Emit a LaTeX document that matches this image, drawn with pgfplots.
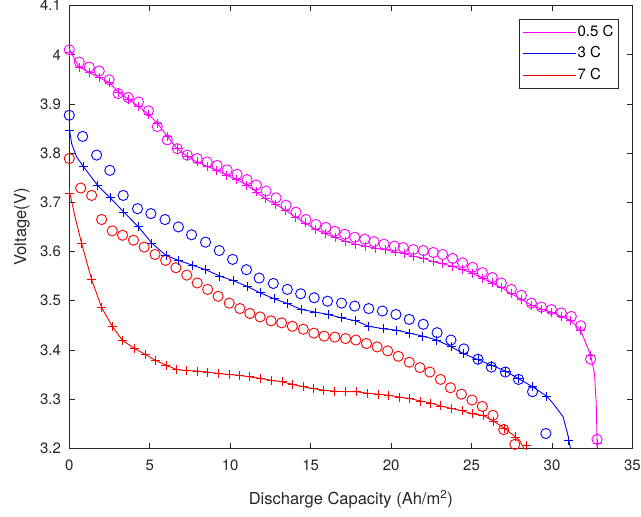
\documentclass[border=0pt]{standalone}
\usepackage{fontspec}
\setmainfont{TeX Gyre Heros}
\usepackage{pgfplots}
\pgfplotsset{compat=1.18}
\definecolor{mag}{rgb}{1,0,1}
\definecolor{blu}{rgb}{0,0,1}
\definecolor{rd}{rgb}{1,0,0}
\definecolor{axgray}{rgb}{0.15,0.15,0.15}
\begin{document}
\begin{tikzpicture}
\begin{axis}[
  scale only axis,
  width=375.5pt, height=295.2pt,
  xmin=0, xmax=35, ymin=3.2, ymax=4.1,
  xtick={0,5,10,15,20,25,30,35},
  ytick={3.2,3.3,3.4,3.5,3.6,3.7,3.8,3.9,4,4.1},
  tick align=inside,
  major tick length=3.5pt,
  axis line style={draw=axgray, line width=0.5pt},
  major tick style={draw=axgray, line width=0.5pt},
  tick label style={font=\fontsize{10}{12}\selectfont, text=axgray},
  yticklabel style={xshift=-2pt},
  xticklabel style={yshift=-4.5pt},
  /pgf/number format/assume math mode=true,
  xlabel={Discharge Capacity (Ah/m\textsuperscript{2})},
  ylabel={Voltage(V)},
  label style={font=\fontsize{11}{13}\selectfont, text=axgray},
  xlabel style={at={(axis description cs:0.5,0)}, anchor=base, yshift=-37.3pt},
  legend style={at={(0.9748,0.9688)}, anchor=north east, draw=axgray, line width=0.5pt,
    fill=white, font=\fontsize{10}{12}\selectfont, cells={anchor=west},
    inner xsep=2pt, inner ysep=2.5pt, row sep=3pt,
    nodes={inner sep=1pt, text height=7.5pt, text depth=2pt}},
  legend image code/.code={\draw[#1, line width=0.6pt] (0pt,0pt) -- (35pt,0pt);},
]
% model lines
\addplot[color=mag, draw=mag, line width=0.6pt, no marks] coordinates {
(0,4.012) (0.36,3.989) (0.62,3.975) (1.24,3.964) (1.86,3.953) (2.48,3.944) (3.04,3.924) (3.66,3.910) (4.30,3.895) (4.92,3.879) (5.47,3.861) (6.09,3.834) (6.71,3.809) (7.33,3.793) (7.95,3.782) (8.57,3.773) (9.17,3.765) (9.79,3.755) (10.41,3.746) (11.03,3.735) (11.62,3.721) (12.19,3.707) (12.81,3.696) (13.43,3.684) (14.05,3.670) (14.67,3.658) (15.29,3.645) (15.91,3.636) (16.52,3.628) (17.14,3.621) (17.76,3.615) (18.38,3.611) (19.00,3.607) (19.62,3.604) (20.26,3.599) (20.82,3.596) (21.40,3.590) (22.02,3.586) (22.64,3.579) (23.22,3.575) (23.82,3.570) (24.44,3.563) (25.06,3.556) (25.67,3.545) (26.29,3.536) (26.85,3.527) (27.47,3.514) (28.10,3.503) (28.72,3.491) (29.34,3.483) (29.96,3.477) (30.58,3.468) (31.16,3.460) (31.78,3.440) (32.40,3.389) (32.64,3.352) (32.75,3.290) (32.81,3.200)
};
\addlegendentry{0.5 C}
\addplot[color=blu, draw=blu, line width=0.6pt, no marks] coordinates {
(0,3.850) (0.15,3.819) (0.46,3.792) (0.87,3.773) (1.77,3.734) (2.55,3.709) (3.39,3.680) (4.30,3.650) (5.13,3.617) (6.01,3.592) (6.78,3.582) (7.67,3.572) (8.47,3.563) (9.36,3.550) (10.18,3.541) (11.05,3.529) (11.86,3.516) (12.73,3.504) (13.57,3.494) (14.44,3.482) (15.27,3.477) (16.09,3.472) (16.92,3.465) (17.81,3.459) (18.61,3.448) (19.50,3.443) (20.35,3.440) (21.17,3.434) (21.96,3.428) (22.84,3.420) (23.75,3.406) (24.52,3.392) (25.40,3.380) (26.23,3.369) (27.10,3.357) (27.90,3.342) (28.79,3.325) (29.66,3.306) (30.07,3.291) (30.69,3.264) (31.00,3.225) (31.14,3.200)
};
\addlegendentry{3 C}
\addplot[color=rd, draw=rd, line width=0.6pt, no marks] coordinates {
(0,3.724) (0.36,3.670) (0.77,3.616) (1.39,3.543) (2.01,3.486) (2.67,3.448) (3.29,3.420) (4.03,3.403) (4.71,3.391) (5.33,3.379) (6.01,3.369) (6.68,3.360) (7.30,3.358) (7.95,3.357) (8.60,3.355) (9.25,3.352) (9.94,3.350) (10.60,3.348) (11.22,3.345) (11.90,3.342) (12.58,3.338) (13.24,3.335) (13.88,3.330) (14.54,3.325) (15.20,3.321) (15.82,3.318) (16.50,3.316) (17.19,3.315) (17.85,3.315) (18.51,3.312) (19.19,3.310) (19.81,3.308) (20.51,3.304) (21.17,3.301) (21.83,3.296) (22.45,3.292) (23.07,3.286) (23.75,3.281) (24.41,3.276) (25.06,3.270) (25.71,3.267) (26.38,3.255) (27.06,3.240) (27.74,3.223) (27.99,3.216) (28.25,3.200)
};
\addlegendentry{7 C}
% circles
\addplot[color=mag, draw=mag, only marks, mark=o, mark size=3.4pt, line width=0.6pt, mark options={draw=mag}, forget plot] coordinates {
(0.00,4.010) (0.62,3.985) (1.24,3.975) (1.86,3.967) (2.48,3.949) (3.04,3.921) (3.66,3.913) (4.30,3.904) (4.92,3.886) (5.47,3.854) (6.09,3.827) (6.71,3.809) (7.33,3.796) (7.95,3.789) (8.57,3.782) (9.19,3.775) (9.81,3.766) (10.43,3.757) (11.05,3.746) (11.62,3.735) (12.23,3.723) (12.85,3.709) (13.47,3.694) (14.09,3.680) (14.71,3.665) (15.33,3.655) (15.95,3.649) (16.50,3.641) (17.12,3.635) (17.74,3.629) (18.36,3.625) (18.94,3.620) (19.56,3.615) (20.20,3.611) (20.76,3.608) (21.38,3.604) (22.00,3.602) (22.62,3.598) (23.20,3.594) (23.82,3.586) (24.44,3.577) (25.06,3.568) (25.67,3.557) (26.29,3.547) (26.85,3.536) (27.47,3.523) (28.10,3.511) (28.72,3.495) (29.34,3.487) (29.96,3.482) (30.58,3.475) (31.20,3.468) (31.78,3.449) (32.40,3.381) (32.80,3.218)
};
\addplot[color=blu, draw=blu, only marks, mark=o, mark size=3.4pt, line width=0.6pt, mark options={draw=blu}, forget plot] coordinates {
(0.00,3.877) (0.83,3.834) (1.70,3.796) (2.52,3.765) (3.35,3.714) (4.24,3.687) (5.07,3.677) (5.95,3.665) (6.78,3.650) (7.60,3.634) (8.47,3.619) (9.32,3.602) (10.15,3.584) (11.01,3.563) (11.80,3.546) (12.68,3.535) (13.55,3.523) (14.38,3.514) (15.22,3.506) (16.05,3.499) (16.92,3.495) (17.74,3.489) (18.61,3.484) (19.46,3.479) (20.30,3.472) (21.13,3.462) (22.00,3.452) (22.86,3.435) (23.72,3.420) (24.52,3.402) (25.40,3.381) (26.23,3.365) (27.10,3.355) (27.92,3.340) (28.79,3.315) (29.62,3.230)
};
\addplot[color=rd, draw=rd, only marks, mark=o, mark size=3.4pt, line width=0.6pt, mark options={draw=rd}, forget plot] coordinates {
(0.00,3.789) (0.71,3.729) (1.39,3.714) (2.01,3.665) (2.67,3.642) (3.31,3.633) (3.99,3.623) (4.65,3.609) (5.33,3.594) (5.99,3.582) (6.63,3.567) (7.30,3.552) (7.95,3.536) (8.60,3.523) (9.25,3.509) (9.94,3.495) (10.60,3.484) (11.22,3.474) (11.86,3.467) (12.54,3.459) (13.20,3.455) (13.86,3.448) (14.54,3.442) (15.20,3.434) (15.84,3.428) (16.50,3.426) (17.17,3.423) (17.81,3.420) (18.47,3.413) (19.13,3.406) (19.79,3.398) (20.45,3.387) (21.13,3.375) (21.79,3.364) (22.41,3.355) (23.07,3.340) (23.69,3.323) (24.37,3.310) (25.03,3.298) (25.67,3.285) (26.33,3.267) (27.00,3.238) (27.69,3.208)
};
% pluses
\addplot[color=mag, draw=mag, only marks, mark=+, mark size=3pt, line width=0.6pt, mark options={draw=mag}, forget plot] coordinates {
(0.00,4.004) (0.62,3.975) (1.24,3.964) (1.86,3.953) (2.48,3.944) (3.04,3.924) (3.66,3.910) (4.30,3.895) (4.92,3.879) (5.47,3.861) (6.09,3.834) (6.71,3.809) (7.33,3.793) (7.95,3.782) (8.57,3.773) (9.17,3.765) (9.79,3.755) (10.41,3.746) (11.03,3.735) (11.62,3.721) (12.19,3.707) (12.81,3.696) (13.43,3.684) (14.05,3.670) (14.67,3.658) (15.29,3.645) (15.91,3.636) (16.52,3.628) (17.14,3.621) (17.76,3.615) (18.38,3.611) (19.00,3.607) (19.62,3.604) (20.26,3.599) (20.82,3.596) (21.40,3.590) (22.02,3.586) (22.64,3.579) (23.22,3.575) (23.82,3.570) (24.44,3.563) (25.06,3.556) (25.67,3.545) (26.29,3.536) (26.85,3.527) (27.47,3.514) (28.10,3.503) (28.72,3.491) (29.34,3.483) (29.96,3.477) (30.58,3.468) (31.16,3.460) (31.78,3.440) (32.40,3.389) (32.80,3.209)
};
\addplot[color=blu, draw=blu, only marks, mark=+, mark size=3pt, line width=0.6pt, mark options={draw=blu}, forget plot] coordinates {
(0.00,3.846) (0.87,3.773) (1.77,3.734) (2.55,3.709) (3.39,3.680) (4.30,3.650) (5.13,3.617) (6.01,3.592) (6.78,3.582) (7.67,3.572) (8.47,3.563) (9.36,3.550) (10.18,3.541) (11.05,3.529) (11.86,3.516) (12.73,3.504) (13.57,3.494) (14.44,3.482) (15.27,3.477) (16.09,3.472) (16.92,3.465) (17.81,3.459) (18.61,3.448) (19.50,3.443) (20.35,3.440) (21.17,3.434) (21.96,3.428) (22.84,3.420) (23.75,3.406) (24.52,3.392) (25.40,3.380) (26.23,3.369) (27.10,3.357) (27.90,3.342) (28.79,3.325) (29.66,3.306) (31.00,3.215)
};
\addplot[color=rd, draw=rd, only marks, mark=+, mark size=3pt, line width=0.6pt, mark options={draw=rd}, forget plot] coordinates {
(0.00,3.719) (0.77,3.616) (1.39,3.543) (2.01,3.486) (2.67,3.448) (3.29,3.420) (4.03,3.403) (4.71,3.391) (5.33,3.379) (6.01,3.369) (6.68,3.360) (7.30,3.358) (7.95,3.357) (8.60,3.355) (9.25,3.352) (9.94,3.350) (10.60,3.348) (11.22,3.345) (11.90,3.342) (12.58,3.338) (13.24,3.335) (13.88,3.330) (14.54,3.325) (15.20,3.321) (15.82,3.318) (16.50,3.316) (17.19,3.315) (17.85,3.315) (18.51,3.312) (19.19,3.310) (19.81,3.308) (20.51,3.304) (21.17,3.301) (21.83,3.296) (22.45,3.292) (23.07,3.286) (23.75,3.281) (24.41,3.276) (25.06,3.270) (25.71,3.267) (26.38,3.255) (27.06,3.240) (27.74,3.223) (28.41,3.206)
};
\end{axis}
\pgfresetboundingbox
\path ([shift={(-46.2pt,-45.8pt)}]current axis.south west) rectangle ([shift={(5.7pt,3.7pt)}]current axis.north east);
\end{tikzpicture}
\end{document}
